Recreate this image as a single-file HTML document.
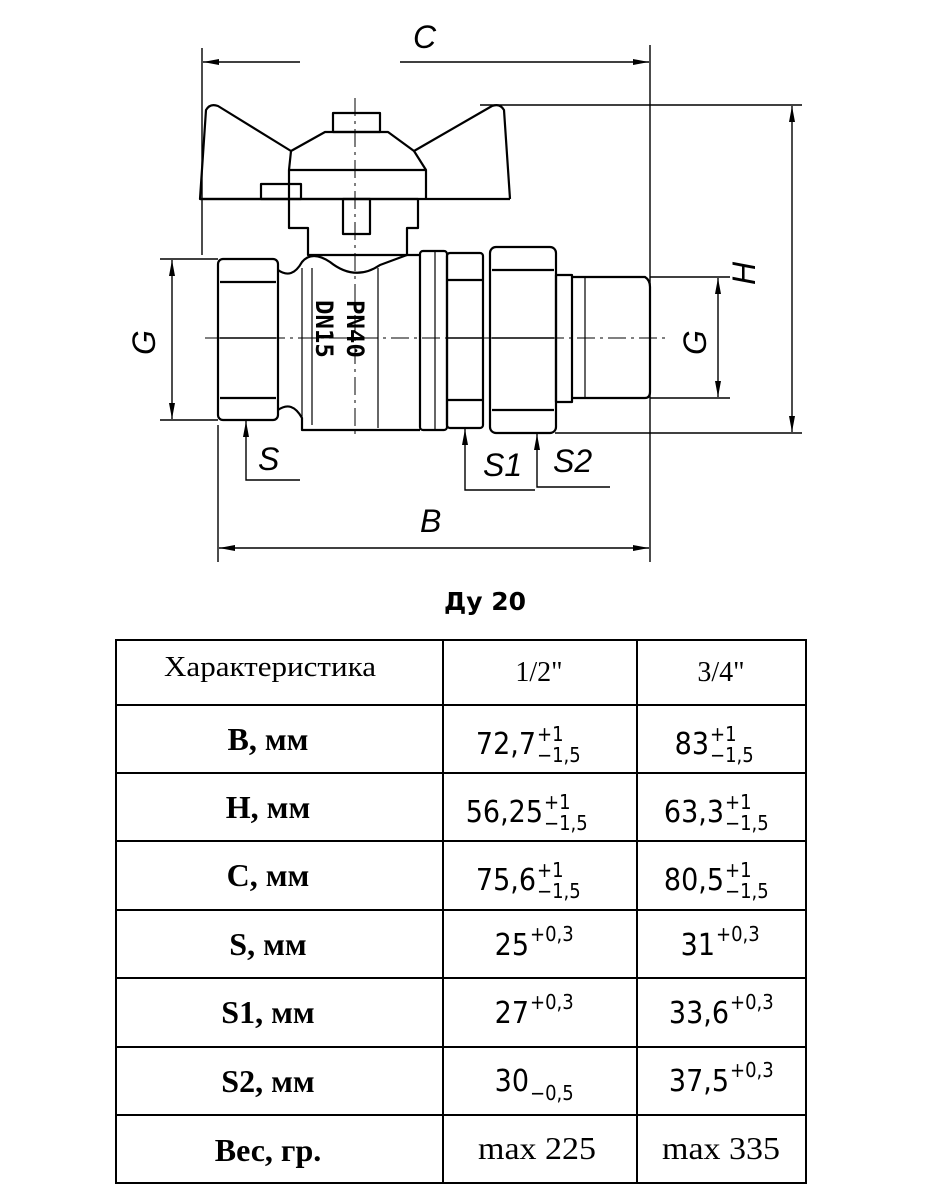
<!DOCTYPE html>
<html><head><meta charset="utf-8"><style>
html,body{margin:0;padding:0;background:#fff;}
svg{display:block}
.l{font-family:"Liberation Serif",serif;font-weight:bold;font-size:32px;}
.n{font-family:"DejaVu Sans Condensed","DejaVu Sans",sans-serif;font-size:30px;}
.t{font-family:"DejaVu Sans Condensed","DejaVu Sans",sans-serif;font-size:20px;}
.d{font-family:"Liberation Sans",sans-serif;font-style:italic;font-size:32px;font-weight:normal}
</style></head><body>
<svg width="930" height="1200" viewBox="0 0 930 1200" xmlns="http://www.w3.org/2000/svg">
<defs>
<marker id="a" markerWidth="16" markerHeight="8" refX="16" refY="4" orient="auto" markerUnits="userSpaceOnUse"><path d="M0,1 L16,4 L0,7 Z" fill="#000"/></marker>
</defs>
<g stroke="#000" fill="none" stroke-width="1.4">
<line x1="202" y1="48" x2="202" y2="255"/>
<line x1="650" y1="45" x2="650" y2="562"/>
<line x1="218" y1="425" x2="218" y2="562"/>
<line x1="480" y1="105" x2="802" y2="105"/>
<line x1="555" y1="433" x2="802" y2="433"/>
<line x1="160" y1="259" x2="218" y2="259"/>
<line x1="160" y1="420" x2="218" y2="420"/>
<line x1="650" y1="277" x2="730" y2="277"/>
<line x1="650" y1="398" x2="730" y2="398"/>
<line x1="300" y1="62" x2="203" y2="62" marker-end="url(#a)"/>
<line x1="400" y1="62" x2="649" y2="62" marker-end="url(#a)"/>
<line x1="792" y1="250" x2="792" y2="106" marker-end="url(#a)"/>
<line x1="792" y1="250" x2="792" y2="432" marker-end="url(#a)"/>
<line x1="172" y1="340" x2="172" y2="260" marker-end="url(#a)"/>
<line x1="172" y1="340" x2="172" y2="419" marker-end="url(#a)"/>
<line x1="718" y1="340" x2="718" y2="278" marker-end="url(#a)"/>
<line x1="718" y1="340" x2="718" y2="397" marker-end="url(#a)"/>
<line x1="430" y1="548" x2="219" y2="548" marker-end="url(#a)"/>
<line x1="430" y1="548" x2="649" y2="548" marker-end="url(#a)"/>
<polyline points="300,480 246,480 246,421" marker-end="url(#a)"/>
<polyline points="535,490 465,490 465,429" marker-end="url(#a)"/>
<polyline points="610,487 537,487 537,434" marker-end="url(#a)"/>
<line x1="205" y1="338" x2="665" y2="338" stroke-dasharray="18,5,3,5" stroke-width="1"/>
<line x1="355" y1="98" x2="355" y2="435" stroke-dasharray="18,5,3,5" stroke-width="1"/>
</g>
<g stroke="#000" fill="none" stroke-width="2.2" stroke-linejoin="round">
<path d="M200,199 L206,110 Q210,103 218,106 L291,151 L289,170 L289,228 L308,228 L308,255 L407,255 L407,228 L418,228 L418,199 Z"/>
<path d="M510,199 L504,110 Q500,103 492,106 L414,151 L426,170 L426,199"/>
<path d="M200,199 L510,199"/>
<path d="M289,170 L426,170"/>
<path d="M291,151 L325,132 L388,132 L414,151"/>
<rect x="333" y="113" width="47" height="19"/>
<rect x="261" y="184" width="40" height="15"/>
<rect x="343" y="199" width="27" height="35"/>
<rect x="218" y="259" width="60" height="161" rx="5"/>
<line x1="220" y1="282" x2="276" y2="282"/>
<line x1="220" y1="338" x2="276" y2="338" stroke-width="1.5"/>
<line x1="220" y1="398" x2="276" y2="398"/>
<path d="M278,270 Q292,280 302,262 Q312,250 330,262 Q355,282 380,265 L407,255 L420,255"/>
<path d="M278,410 Q292,400 302,418 L302,430 L420,430"/>
<line x1="302" y1="268" x2="302" y2="418" stroke-width="1.2"/>
<line x1="312" y1="268" x2="312" y2="425" stroke-width="1.2"/>
<line x1="378" y1="268" x2="378" y2="428" stroke-width="1.2"/>
<rect x="420" y="251" width="27" height="179" rx="3"/>
<line x1="435" y1="252" x2="435" y2="429" stroke-width="1.2"/>
<rect x="447" y="253" width="36" height="175" rx="3"/>
<line x1="448" y1="280" x2="482" y2="280"/>
<line x1="448" y1="338" x2="482" y2="338" stroke-width="1.5"/>
<line x1="448" y1="400" x2="482" y2="400"/>
<rect x="490" y="247" width="66" height="186" rx="6"/>
<line x1="492" y1="270" x2="554" y2="270"/>
<line x1="492" y1="338" x2="554" y2="338" stroke-width="1.5"/>
<line x1="492" y1="410" x2="554" y2="410"/>
<rect x="556" y="275" width="16" height="127"/>
<path d="M572,277 L645,277 Q650,280 650,287 L650,392 Q650,398 645,398 L572,398"/>
<line x1="585" y1="277" x2="585" y2="398" stroke-width="1.2"/>
</g>
<g font-family="'DejaVu Sans Mono','Liberation Mono',monospace" font-weight="bold" font-size="24" fill="#000">
<text transform="translate(347,300) rotate(90)">PN40</text>
<text transform="translate(316,300) rotate(90)">DN15</text>
</g>
<g class="d" fill="#000">
<text x="413" y="48">C</text>
<text transform="translate(755,285) rotate(-90)">H</text>
<text transform="translate(155,355) rotate(-90)">G</text>
<text transform="translate(706,355) rotate(-90)">G</text>
<text x="420" y="532">B</text>
<text x="258" y="470">S</text>
<text x="483" y="476">S1</text>
<text x="553" y="472">S2</text>
</g>
<text x="485" y="610" text-anchor="middle" font-family="'DejaVu Sans','Liberation Sans',sans-serif" font-weight="bold" font-size="25">Ду 20</text>
<g stroke="#000" stroke-width="2" fill="none">
<rect x="116" y="640" width="690" height="543"/>
<line x1="443" y1="640" x2="443" y2="1183"/>
<line x1="637" y1="640" x2="637" y2="1183"/>
<line x1="116" y1="705" x2="806" y2="705"/>
<line x1="116" y1="773" x2="806" y2="773"/>
<line x1="116" y1="841" x2="806" y2="841"/>
<line x1="116" y1="910" x2="806" y2="910"/>
<line x1="116" y1="978" x2="806" y2="978"/>
<line x1="116" y1="1047" x2="806" y2="1047"/>
<line x1="116" y1="1115" x2="806" y2="1115"/>
</g>
<g fill="#000">
<g font-family="'Liberation Serif',serif" font-size="28" text-anchor="middle">
<text x="270" y="676" textLength="212" lengthAdjust="spacingAndGlyphs">Характеристика</text>
<text x="539" y="681">1/2"</text>
<text x="721" y="681">3/4"</text>
<text x="537" y="1159" font-size="32" textLength="118" lengthAdjust="spacingAndGlyphs">max 225</text>
<text x="721" y="1159" font-size="32" textLength="118" lengthAdjust="spacingAndGlyphs">max 335</text>
</g>
<g class="l" text-anchor="middle">
<text x="268" y="750">B, мм</text>
<text x="268" y="818">H, мм</text>
<text x="268" y="886">C, мм</text>
<text x="268" y="955">S, мм</text>
<text x="268" y="1023">S1, мм</text>
<text x="268" y="1092">S2, мм</text>
<text x="268" y="1161">Вес, гр.</text>
</g>
<g class="n" text-anchor="end">
<text x="536" y="754">72,7</text><text x="709" y="754">83</text>
<text x="543" y="822">56,25</text><text x="724" y="822">63,3</text>
<text x="536" y="890">75,6</text><text x="724" y="890">80,5</text>
<text x="529" y="955">25</text><text x="715" y="955">31</text>
<text x="529" y="1023">27</text><text x="729" y="1023">33,6</text>
<text x="529" y="1091">30</text><text x="729" y="1091">37,5</text>
</g>
<g class="t">
<text x="537" y="741">+1</text><text x="537" y="762">−1,5</text>
<text x="710" y="741">+1</text><text x="710" y="762">−1,5</text>
<text x="544" y="809">+1</text><text x="544" y="830">−1,5</text>
<text x="725" y="809">+1</text><text x="725" y="830">−1,5</text>
<text x="537" y="877">+1</text><text x="537" y="898">−1,5</text>
<text x="725" y="877">+1</text><text x="725" y="898">−1,5</text>
<text x="530" y="941">+0,3</text><text x="716" y="941">+0,3</text>
<text x="530" y="1009">+0,3</text><text x="730" y="1009">+0,3</text>
<text x="530" y="1100">−0,5</text><text x="730" y="1077">+0,3</text>
</g>
</g>
</svg>
</body></html>
